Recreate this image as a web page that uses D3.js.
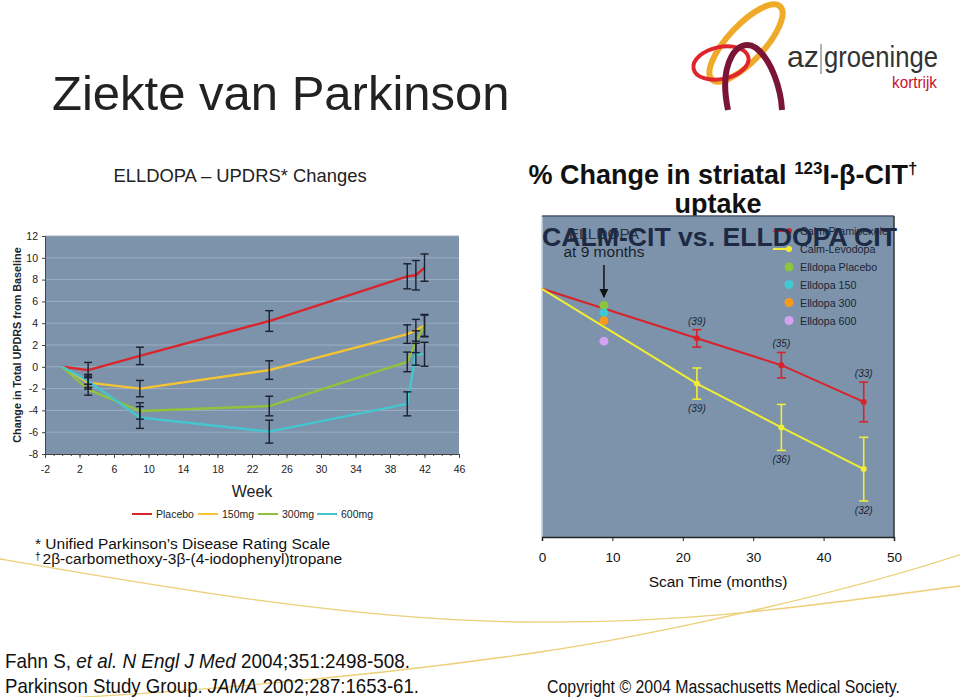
<!DOCTYPE html>
<html><head><meta charset="utf-8">
<script src="https://cdn.jsdelivr.net/npm/d3@7"></script>
<style>
body{margin:0;background:#fff}
svg{display:block;font-family:"Liberation Sans",Arial,Helvetica,sans-serif}
</style>
</head><body>
<svg id="c" width="960" height="697"></svg>
<script>
// ---------- LEFT CHART DATA (ELLDOPA UPDRS) ----------
const weeks = [0, 3, 9, 24, 40, 41, 42];
const seriesNames = ["Placebo", "150mg", "300mg", "600mg"];
const placebo    = [0, -0.3, 1.0, 4.2, 8.3, 8.4, 9.1];
const placeboErr = [0, 0.7, 0.8, 0.95, 1.15, 1.35, 1.25];
const mg150      = [0, -1.45, -2.0, -0.3, 3.0, 3.35, 3.8];
const mg150Err   = [0, 0.6, 0.75, 0.85, 0.85, 1.0, 1.0];
const mg300      = [0, -2.1, -4.05, -3.6, 0.45, 2.3, 3.75];
const mg300Err   = [0, 0.5, 0.75, 0.9, 0.9, 1.0, 1.0];
const mg600      = [0, -1.3, -4.65, -5.95, -3.4, 1.15, 1.15];
const mg600Err   = [0, 0.6, 1.0, 1.05, 1.1, 1.0, 1.1];
const yTicksLeft = [-8, -6, -4, -2, 0, 2, 4, 6, 8, 10, 12];
const xTicksLeft = [-2, 2, 6, 10, 14, 18, 22, 26, 30, 34, 38, 42, 46];

// ---------- RIGHT CHART DATA (beta-CIT uptake) ----------
const scanMonths = [0, 22, 34, 45.7];
const calmPramipexole    = [0, -7.0, -10.8, -16.0];
const calmPramipexoleErr = [0, 1.23, 1.8, 2.8];
const calmLevodopa       = [0, -13.4, -19.6, -25.5];
const calmLevodopaErr    = [0, 2.2, 3.25, 4.5];
const nPramipexole = ["", "(39)", "(35)", "(33)"];
const nLevodopa    = ["", "(39)", "(36)", "(32)"];
const elldopaMonth = 8.8;
const elldopaNames  = ["Elldopa Placebo", "Elldopa 150", "Elldopa 300", "Elldopa 600"];
const elldopaValues = [-2.36, -3.4, -4.5, -7.4];
const xTicksRight = [0, 10, 20, 30, 40, 50];

const svg = d3.select("#c");
const FONT = '"Liberation Sans",Arial,sans-serif';
const NARROW = '"Liberation Sans Narrow","Arial Narrow","Liberation Sans",sans-serif';

// ---------- decorative slide swooshes ----------
const deco = svg.append("g").attr("fill", "none").attr("stroke", "#e9c760").attr("stroke-width", 1.3).attr("opacity", 0.85);
deco.append("path").attr("d", "M0,559 C150,585 350,620 520,622 S800,607 960,586");
deco.append("path").attr("d", "M-10,702 C250,690 430,668 540,652 S850,592 965,553");

// ---------- page title ----------
svg.append("text").attr("x", 52).attr("y", 110).attr("font-size", 49).attr("fill", "#222")
  .text("Ziekte van Parkinson");

// ---------- logo ----------
const logo = svg.append("g").attr("fill", "none");
logo.append("ellipse").attr("cx", 746).attr("cy", 43).attr("rx", 50).attr("ry", 18)
  .attr("transform", "rotate(-47 746 43)").attr("stroke", "#f0aa2a").attr("stroke-width", 6);
logo.append("ellipse").attr("cx", 721).attr("cy", 63).attr("rx", 28).attr("ry", 16)
  .attr("transform", "rotate(-12 721 63)").attr("stroke", "#e0262d").attr("stroke-width", 4);
logo.append("path").attr("d", "M728,110 C718,62 738,36 756,48 C772,60 781,90 782,110")
  .attr("stroke", "#7b1535").attr("stroke-width", 6);
svg.append("text").attr("x", 787).attr("y", 67).attr("font-size", 29).attr("fill", "#333")
  .attr("textLength", 32).attr("lengthAdjust", "spacingAndGlyphs").text("az");
svg.append("line").attr("x1", 821).attr("x2", 821).attr("y1", 44).attr("y2", 74).attr("stroke", "#666").attr("stroke-width", 1);
svg.append("text").attr("x", 824).attr("y", 67).attr("font-size", 29).attr("fill", "#333")
  .attr("textLength", 114).attr("lengthAdjust", "spacingAndGlyphs").text("groeninge");
svg.append("text").attr("x", 892).attr("y", 88).attr("font-size", 17).attr("fill", "#c8102e")
  .attr("textLength", 45).attr("lengthAdjust", "spacingAndGlyphs").text("kortrijk");

// ================= LEFT CHART =================
const xL = d3.scaleLinear().domain([-2, 46]).range([45, 459]);
const yL = d3.scaleLinear().domain([-8, 12]).range([454, 236]);
const plainNum = d => String(d);

svg.append("text").attr("x", 240).attr("y", 182).attr("text-anchor", "middle").attr("font-size", 18.4).attr("fill", "#222")
  .text("ELLDOPA \u2013 UPDRS* Changes");

svg.append("rect").attr("x", xL(-2)).attr("y", yL(12)).attr("width", xL(46) - xL(-2)).attr("height", yL(-8) - yL(12))
  .attr("fill", "#7c93ab");
svg.append("g").selectAll("line").data(yTicksLeft.filter(d => d > -8)).join("line")
  .attr("x1", xL(-2)).attr("x2", xL(46)).attr("y1", d => yL(d)).attr("y2", d => yL(d))
  .attr("stroke", "#9cafc2").attr("stroke-width", 1);

const axL = svg.append("g").attr("transform", `translate(${xL(-2)},0)`)
  .call(d3.axisLeft(yL).tickValues(yTicksLeft).tickSize(3).tickPadding(4).tickFormat(plainNum));
const axBminor = svg.append("g").attr("transform", `translate(0,${yL(-8)})`)
  .call(d3.axisBottom(xL).tickValues(d3.range(-2, 47, 1)).tickSize(2).tickFormat(""));
const axB = svg.append("g").attr("transform", `translate(0,${yL(-8)})`)
  .call(d3.axisBottom(xL).tickValues(xTicksLeft).tickSize(4).tickPadding(8).tickFormat(plainNum));
[axL, axB, axBminor].forEach(a => {
  a.selectAll("path,line").attr("stroke", "#444");
  a.selectAll("text").attr("font-family", FONT).attr("font-size", 10.5).attr("fill", "#222");
});

svg.append("text").attr("transform", `translate(21,${(yL(12) + yL(-8)) / 2}) rotate(-90)`)
  .attr("text-anchor", "middle").attr("font-size", 10.8).attr("font-weight", "bold").attr("fill", "#222")
  .text("Change in Total UPDRS from Baseline");
svg.append("text").attr("x", xL(22)).attr("y", 497).attr("text-anchor", "middle").attr("font-size", 16).attr("fill", "#222")
  .text("Week");

const leftSeries = [
  {name: seriesNames[0], v: placebo, e: placeboErr, c: "#d9252b"},
  {name: seriesNames[1], v: mg150, e: mg150Err, c: "#f4c433"},
  {name: seriesNames[2], v: mg300, e: mg300Err, c: "#92c23c"},
  {name: seriesNames[3], v: mg600, e: mg600Err, c: "#44c6cf"}
];
const lineL = d3.line().x((d, i) => xL(weeks[i])).y(d => yL(d));
leftSeries.forEach(s => {
  svg.append("path").attr("d", lineL(s.v)).attr("fill", "none").attr("stroke", s.c).attr("stroke-width", 2.4)
    .attr("stroke-linejoin", "round");
});
const ebL = svg.append("g").attr("stroke", "#1b1f2e").attr("stroke-width", 1.4);
leftSeries.forEach(s => {
  s.v.forEach((v, i) => {
    if (!s.e[i]) return;
    const x = xL(weeks[i]), y1 = yL(v + s.e[i]), y2 = yL(v - s.e[i]);
    ebL.append("line").attr("x1", x).attr("x2", x).attr("y1", y1).attr("y2", y2);
    ebL.append("line").attr("x1", x - 4).attr("x2", x + 4).attr("y1", y1).attr("y2", y1);
    ebL.append("line").attr("x1", x - 4).attr("x2", x + 4).attr("y1", y2).attr("y2", y2);
  });
});

// legend left
const legX = [132, 198, 258, 317];
leftSeries.forEach((s, i) => {
  svg.append("line").attr("x1", legX[i]).attr("x2", legX[i] + 20).attr("y1", 514).attr("y2", 514)
    .attr("stroke", s.c).attr("stroke-width", 2);
  svg.append("text").attr("x", legX[i] + 24).attr("y", 518).attr("font-size", 10.5).attr("fill", "#222").text(s.name);
});

// footnotes
svg.append("text").attr("x", 35).attr("y", 549).attr("font-size", 15.5).attr("fill", "#111")
  .text("* Unified Parkinson\u2019s Disease Rating Scale");
const fn2 = svg.append("text").attr("x", 35).attr("y", 564).attr("font-size", 15.5).attr("fill", "#111");
fn2.append("tspan").attr("font-size", 10).attr("dy", -4).text("\u2020");
fn2.append("tspan").attr("dy", 4).attr("dx", 2).text("2\u03b2-carbomethoxy-3\u03b2-(4-iodophenyl)tropane");

// references (condensed face)
const ref1 = svg.append("text").attr("x", 5).attr("y", 668).attr("font-size", 21)
  .attr("font-family", NARROW).attr("fill", "#111")
  .attr("textLength", 405).attr("lengthAdjust", "spacingAndGlyphs");
ref1.append("tspan").text("Fahn S, ");
ref1.append("tspan").attr("font-style", "italic").text("et al. N Engl J Med");
ref1.append("tspan").text(" 2004;351:2498-508.");
const ref2 = svg.append("text").attr("x", 5).attr("y", 693).attr("font-size", 21)
  .attr("font-family", NARROW).attr("fill", "#111")
  .attr("textLength", 414).attr("lengthAdjust", "spacingAndGlyphs");
ref2.append("tspan").text("Parkinson Study Group. ");
ref2.append("tspan").attr("font-style", "italic").text("JAMA");
ref2.append("tspan").text(" 2002;287:1653-61.");
svg.append("text").attr("x", 547).attr("y", 693).attr("font-size", 18.5)
  .attr("font-family", NARROW).attr("fill", "#111")
  .attr("textLength", 353).attr("lengthAdjust", "spacingAndGlyphs")
  .text("Copyright \u00a9 2004 Massachusetts Medical Society.");

// ================= RIGHT CHART =================
const xR = d3.scaleLinear().domain([0, 50]).range([542, 894]);
const yR = d3.scaleLinear().domain([-35.1, 10.3]).range([537, 216]);

const t1 = svg.append("text").attr("x", 723).attr("y", 184).attr("text-anchor", "middle")
  .attr("font-size", 27).attr("font-weight", "bold").attr("fill", "#111");
t1.append("tspan").text("% Change in striatal ");
t1.append("tspan").attr("font-size", 17).attr("dy", -10).text("123");
t1.append("tspan").attr("dy", 10).text("I-\u03b2-CIT");
t1.append("tspan").attr("font-size", 17).attr("dy", -10).text("\u2020");
svg.append("text").attr("x", 718).attr("y", 213).attr("text-anchor", "middle")
  .attr("font-size", 27).attr("font-weight", "bold").attr("fill", "#111").text("uptake");

svg.append("rect").attr("x", xR(0)).attr("y", yR(10.3)).attr("width", xR(50) - xR(0)).attr("height", yR(-35.1) - yR(10.3))
  .attr("fill", "#7c93ab");
svg.append("line").attr("x1", xR(0)).attr("x2", xR(0)).attr("y1", yR(10.3)).attr("y2", yR(-35.1)).attr("stroke", "#c9d3dd").attr("stroke-width", 1.5);
svg.append("line").attr("x1", xR(0)).attr("x2", xR(50)).attr("y1", yR(10.3)).attr("y2", yR(10.3)).attr("stroke", "#4a5566").attr("stroke-width", 1.5);
svg.append("line").attr("x1", xR(50)).attr("x2", xR(50)).attr("y1", yR(10.3)).attr("y2", yR(-35.1)).attr("stroke", "#333").attr("stroke-width", 1.5);

const axR = svg.append("g").attr("transform", `translate(0,${yR(-35.1)})`)
  .call(d3.axisBottom(xR).tickValues(xTicksRight).tickSize(4).tickPadding(11).tickFormat(plainNum));
axR.selectAll("path").attr("stroke", "#222").attr("stroke-width", 1.5);
axR.selectAll("line").attr("stroke", "#222");
axR.selectAll("text").attr("font-family", FONT).attr("font-size", 13.5).attr("fill", "#111");
svg.append("text").attr("x", 718).attr("y", 587).attr("text-anchor", "middle").attr("font-size", 15.5).attr("fill", "#111")
  .text("Scan Time (months)");

const rightSeries = [
  {name: "Calm-Pramipexole", v: calmPramipexole, e: calmPramipexoleErr, n: nPramipexole, c: "#d8232a", above: true},
  {name: "Calm-Levodopa", v: calmLevodopa, e: calmLevodopaErr, n: nLevodopa, c: "#f1ec35", above: false}
];
const lineR = d3.line().x((d, i) => xR(scanMonths[i])).y(d => yR(d));
rightSeries.forEach(s => {
  svg.append("path").attr("d", lineR(s.v)).attr("fill", "none").attr("stroke", s.c).attr("stroke-width", 2);
  s.v.forEach((v, i) => {
    if (!s.e[i]) return;
    const x = xR(scanMonths[i]), y1 = yR(v + s.e[i]), y2 = yR(v - s.e[i]);
    const g = svg.append("g").attr("stroke", s.c).attr("stroke-width", 1.6);
    g.append("line").attr("x1", x).attr("x2", x).attr("y1", y1).attr("y2", y2);
    g.append("line").attr("x1", x - 4.5).attr("x2", x + 4.5).attr("y1", y1).attr("y2", y1);
    g.append("line").attr("x1", x - 4.5).attr("x2", x + 4.5).attr("y1", y2).attr("y2", y2);
    svg.append("circle").attr("cx", x).attr("cy", yR(v)).attr("r", 3).attr("fill", s.c);
    svg.append("text").attr("x", x).attr("y", s.above ? y1 - 5 : y2 + 13).attr("text-anchor", "middle")
      .attr("font-size", 10).attr("font-style", "italic").attr("fill", "#1d2535").text(s.n[i]);
  });
});

const elldopaColors = ["#8cc63e", "#3fc9d3", "#f59a1f", "#d5a2f2"];
elldopaValues.forEach((v, i) => {
  svg.append("circle").attr("cx", xR(elldopaMonth)).attr("cy", yR(v)).attr("r", 4.5).attr("fill", elldopaColors[i]);
});

// right legend
const legY = [231, 249, 267, 284.5, 302.5, 320.5];
rightSeries.forEach((s, i) => {
  svg.append("line").attr("x1", 773).attr("x2", 789).attr("y1", legY[i]).attr("y2", legY[i]).attr("stroke", s.c).attr("stroke-width", 2);
  svg.append("circle").attr("cx", 789).attr("cy", legY[i]).attr("r", 3).attr("fill", s.c);
  svg.append("text").attr("x", 800).attr("y", legY[i] + 4).attr("font-size", 10.7).attr("fill", "#1d2535").text(s.name);
});
elldopaNames.forEach((n, i) => {
  svg.append("circle").attr("cx", 789).attr("cy", legY[i + 2]).attr("r", 4.5).attr("fill", elldopaColors[i]);
  svg.append("text").attr("x", 800).attr("y", legY[i + 2] + 4).attr("font-size", 10.7).attr("fill", "#1d2535").text(n);
});

// ELLDOPA annotation + arrow
svg.append("text").attr("x", xR(elldopaMonth)).attr("y", 239).attr("text-anchor", "middle").attr("font-size", 15.5).attr("fill", "#2a3140").text("ELLDOPA");
svg.append("text").attr("x", xR(elldopaMonth)).attr("y", 257).attr("text-anchor", "middle").attr("font-size", 15.5).attr("fill", "#1a1f2a").text("at 9 months");
svg.append("defs").append("marker").attr("id", "ah").attr("viewBox", "0 0 10 10").attr("refX", 9).attr("refY", 5)
  .attr("markerWidth", 6).attr("markerHeight", 6).attr("orient", "auto")
  .append("path").attr("d", "M0,0 L10,5 L0,10 z").attr("fill", "#111");
svg.append("line").attr("x1", xR(elldopaMonth)).attr("x2", xR(elldopaMonth)).attr("y1", 265).attr("y2", 297)
  .attr("stroke", "#111").attr("stroke-width", 1.5).attr("marker-end", "url(#ah)");

// overlay heading
svg.append("text").attr("x", 542).attr("y", 246).attr("font-size", 25).attr("font-weight", "bold").attr("fill", "#1e2a44")
  .attr("textLength", 355).attr("lengthAdjust", "spacingAndGlyphs").text("CALM-CIT vs. ELLDOPA CIT");
</script>
</body></html>
